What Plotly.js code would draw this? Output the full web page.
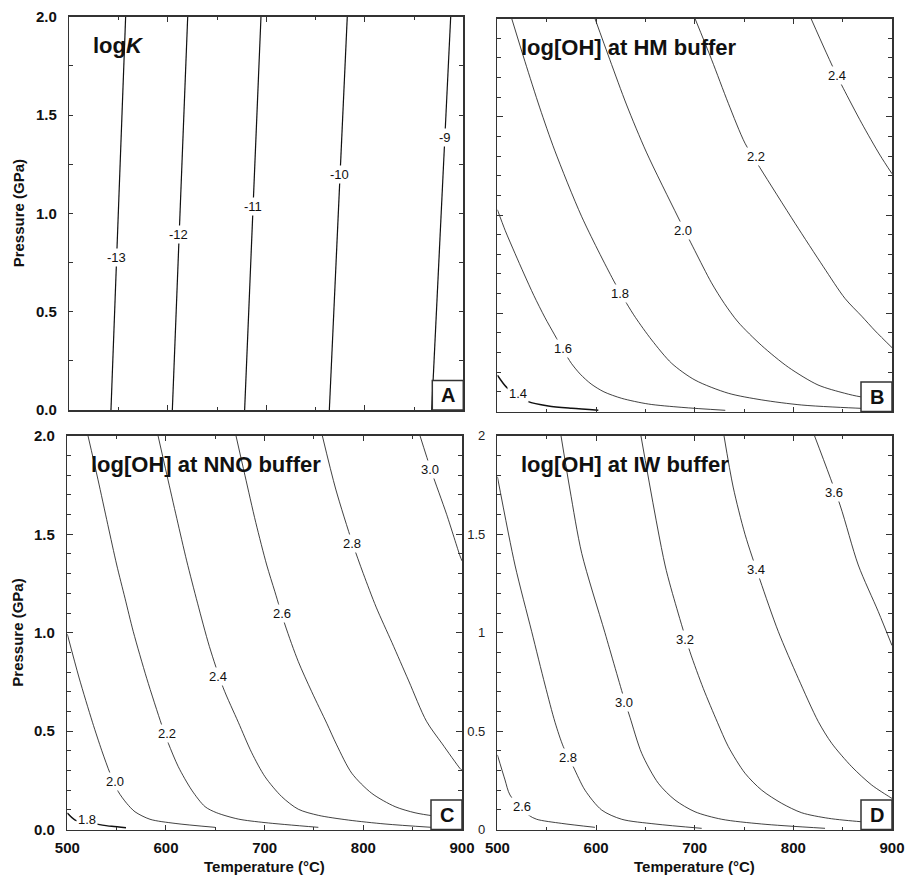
<!DOCTYPE html>
<html><head><meta charset="utf-8">
<script src="https://cdn.plot.ly/plotly-3.0.1.min.js"></script>
<style>html,body{margin:0;padding:0;background:#fff}#chart{width:905px;height:875px}</style>
</head><body><div id="chart"></div>
<script>
// ---------- DATA ----------
// Panel A: log K isolines  [T (°C), P (GPa)]
const A_levels = ['-13','-12','-11','-10','-9'];
const A_m13 = [[542.3,0],[557.2,2.0]];
const A_m12 = [[604.6,0],[620.2,2.0]];
const A_m11 = [[678.0,0],[694.6,2.0]];
const A_m10 = [[764.0,0],[782.2,2.0]];
const A_m9  = [[867.9,0],[887.2,2.0]];
const A_labelT = [548, 611, 686, 774, 881];
const A_labelP = [0.775, 0.893, 1.033, 1.198, 1.386];

// Panel B: log[OH] at HM buffer
const B_levels = ['1.4','1.6','1.8','2.0','2.2','2.4'];
const B_14 = [[500,0.185],[509.4,0.123],[520,0.087],[531.3,0.050],[551.6,0.028],[575.3,0.016],[602.3,0.006]];
const B_16 = [[500,1.027],[508,0.92],[517.8,0.805],[527,0.70],[537,0.59],[548,0.48],[558,0.39],[567,0.31],[575,0.245],[584,0.19],[595,0.14],[608,0.10],[626,0.067],[653,0.038],[687,0.021],[731,0.006]];
const B_18 = [[514.5,2.0],[528,1.78],[543,1.545],[558,1.33],[585.5,0.991],[617.5,0.669],[631,0.55],[640,0.478],[656.4,0.364],[676.7,0.245],[700.3,0.160],[734,0.093],[768,0.059],[808.5,0.033],[869.3,0.016],[900,0.011]];
const B_20 = [[598.9,2.0],[614,1.79],[631,1.56],[651,1.32],[683,0.99],[700,0.82],[717,0.655],[730,0.55],[744,0.455],[768,0.335],[795,0.225],[825,0.135],[852,0.093],[868,0.075],[900,0.06]];
const B_22 = [[700.3,2.0],[717.2,1.79],[734.1,1.568],[751,1.365],[766.2,1.24],[801.7,0.958],[830.4,0.737],[852.4,0.575],[869.3,0.485],[883,0.41],[900,0.325]];
const B_24 = [[817.9,2.0],[832.1,1.84],[843.9,1.712],[850.6,1.645],[869.3,1.467],[887.8,1.305],[900,1.21]];
const B_labelT = [520.5, 566.8, 624.3, 687.8, 761.8, 843.9];
const B_labelP = [0.093, 0.322, 0.601, 0.92, 1.30, 1.712];

// Panel C: log[OH] at NNO buffer
const C_levels = ['1.8','2.0','2.2','2.4','2.6','2.8','3.0'];
const C_18 = [[500,0.084],[508,0.048],[520,0.036],[531.4,0.026],[545,0.016],[559.5,0.009]];
const C_20 = [[500,0.993],[512,0.77],[525.5,0.545],[535,0.40],[543.3,0.286],[551.7,0.192],[560.2,0.133],[568.6,0.09],[583.8,0.052],[609.2,0.031],[649.7,0.011]];
const C_22 = [[521,2.0],[531,1.78],[541,1.55],[550.1,1.344],[558.5,1.175],[566.9,1.005],[580.5,0.768],[595.7,0.531],[602.4,0.438],[612.5,0.319],[626.1,0.2],[639.6,0.116],[651.4,0.085],[673.3,0.053],[700.4,0.035],[754.4,0.011]];
const C_24 = [[592,2.0],[601,1.8],[611,1.58],[621,1.365],[632,1.15],[644,0.93],[658,0.72],[673.3,0.545],[686.9,0.39],[700.4,0.268],[717.3,0.167],[734.1,0.103],[754.4,0.072],[784.8,0.048],[822,0.028],[869.3,0.011]];
const C_26 = [[671,2.0],[680,1.8],[691,1.56],[702.1,1.344],[710.4,1.208],[720.7,1.039],[734.1,0.853],[747.7,0.7],[762.9,0.54],[773,0.43],[788.3,0.286],[808.5,0.184],[832.2,0.116],[852.4,0.085],[870,0.07],[900,0.055]];
const C_28 = [[758.5,2.0],[772,1.73],[789,1.455],[800,1.3],[813,1.13],[829,0.95],[846,0.755],[864,0.55],[880,0.435],[898,0.31],[900,0.30]];
const C_30 = [[857.5,2.0],[869,1.82],[884.5,1.6],[898,1.39],[900,1.365]];
const C_labelT = [520, 548.3, 600.7, 652.4, 717.3, 789, 868];
const C_labelP = [0.05, 0.243, 0.489, 0.775, 1.099, 1.452, 1.83];

// Panel D: log[OH] at IW buffer
const D_levels = ['2.6','2.8','3.0','3.2','3.4','3.6'];
const D_26 = [[500,0.379],[507.7,0.252],[512.8,0.175],[531.4,0.074],[539.8,0.052],[565.2,0.031],[598.9,0.011]];
const D_28 = [[500,1.793],[517.8,1.344],[534.8,1.005],[548.3,0.734],[558.4,0.545],[566.8,0.421],[576.9,0.319],[588.8,0.2],[605.7,0.099],[626,0.052],[659.8,0.028],[707.1,0.006]];
const D_30 = [[564.5,2.0],[573.6,1.725],[585.5,1.403],[609,1.0],[628.7,0.66],[634.4,0.57],[646.3,0.387],[663.1,0.235],[680,0.15],[700.3,0.09],[727.4,0.052],[767.9,0.028],[832.1,0.006]];
const D_32 = [[645.5,2.0],[669.9,1.344],[681.8,1.124],[695.2,0.903],[708.7,0.717],[723,0.545],[734.1,0.421],[751,0.286],[767.9,0.2],[788.2,0.133],[808.5,0.085],[835.4,0.057],[867.6,0.04],[900,0.03]];
const D_34 = [[729.7,2.0],[739,1.74],[751,1.5],[766.2,1.268],[784.8,1.005],[805,0.768],[825.3,0.548],[838.9,0.438],[859.2,0.319],[879.4,0.226],[898,0.164],[900,0.158]];
const D_36 = [[821.5,2.0],[847.3,1.649],[865.8,1.344],[886.1,1.107],[900,0.935]];
const D_labelT = [524.6, 571.3, 628.7, 690.2, 761.8, 841.5];
const D_labelP = [0.119, 0.367, 0.646, 0.963, 1.319, 1.711];

const panelTitles = ['log<i>K</i>', 'log[OH] at HM buffer', 'log[OH] at NNO buffer', 'log[OH] at IW buffer'];
const panelLetters = ['A','B','C','D'];

// ---------- LAYOUT / STYLE ----------
const W = 905, H = 875;
const FONT = 'Liberation Sans, Arial, Helvetica, sans-serif';
const FRAME = '#333';
const LINE = '#111';
const PX = [ // pixel boxes of the four plot areas
  {l:69.3, r:463.3, t:16.7, b:410},
  {l:497.4, r:892, t:18.5, b:411.5},
  {l:67.3, r:462, t:435.9, b:829.5},
  {l:497.4, r:892, t:435.9, b:829.5}
];
const dx = p => [p.l / W, p.r / W];
const dy = p => [1 - p.b / H, 1 - p.t / H];

const panels = [
  {lines:[A_m13,A_m12,A_m11,A_m10,A_m9], widths:[1.2,1.2,1.2,1.2,1.2], shape:'linear', levels:A_levels, lt:A_labelT, lp:A_labelP},
  {lines:[B_14,B_16,B_18,B_20,B_22,B_24], widths:[1.5,0.8,0.8,0.8,0.8,0.8], shape:'spline', levels:B_levels, lt:B_labelT, lp:B_labelP},
  {lines:[C_18,C_20,C_22,C_24,C_26,C_28,C_30], widths:[1.5,0.8,0.8,0.8,0.8,0.8,0.8], shape:'spline', levels:C_levels, lt:C_labelT, lp:C_labelP},
  {lines:[D_26,D_28,D_30,D_32,D_34,D_36], widths:[0.8,0.8,0.8,0.8,0.8,0.8], shape:'spline', levels:D_levels, lt:D_labelT, lp:D_labelP}
];

const traces = [];
const annotations = [];
const shapes = [];
const layout = {
  width: W, height: H, margin: {l:0, r:0, t:0, b:0},
  paper_bgcolor: '#fff', plot_bgcolor: '#fff', showlegend: false,
  font: {family: FONT, color: '#111'}
};

panels.forEach((pan, i) => {
  const n = i + 1;
  const xa = 'x' + (n === 1 ? '' : n), ya = 'y' + (n === 1 ? '' : n);
  pan.lines.forEach((ln, k) => {
    traces.push({
      type: 'scatter', mode: 'lines', xaxis: xa, yaxis: ya,
      x: ln.map(d => d[0]), y: ln.map(d => d[1]),
      line: {color: LINE, width: pan.widths[k], shape: pan.shape, smoothing: 0.8},
      hoverinfo: 'skip', showlegend: false
    });
  });
  pan.levels.forEach((lv, k) => {
    annotations.push({
      xref: xa, yref: ya, x: pan.lt[k], y: pan.lp[k], text: lv, showarrow: false,
      font: {family: FONT, size: 13, color: '#111'}, bgcolor: '#fff', borderpad: 1
    });
  });

  const p = PX[i];
  const bottom = (i >= 2);
  const xKey = 'xaxis' + (n === 1 ? '' : n), yKey = 'yaxis' + (n === 1 ? '' : n);
  layout[xKey] = {
    domain: dx(p), anchor: ya, range: [500, 900], fixedrange: true,
    showline: true, linecolor: FRAME, linewidth: 1.5, mirror: 'ticks',
    ticks: 'inside', ticklen: 5, tickwidth: 1, tickcolor: FRAME, tick0: 500, dtick: 100,
    minor: {dtick: 50, ticklen: 3, ticks: 'inside', tickcolor: FRAME, tickwidth: 1, showgrid: false},
    showgrid: false, zeroline: false, showticklabels: bottom,
    tickfont: {family: FONT, size: 15, weight: 700, color: '#111'}, ticklabelstandoff: 4
  };
  const yMinor = (i === 0) ? 0.25 : 0.1;
  const yLen = (i === 0) ? 4 : 6;
  layout[yKey] = {
    domain: dy(p), anchor: xa, range: [0, 2], fixedrange: true,
    showline: true, linecolor: FRAME, linewidth: 1.5, mirror: 'ticks',
    ticks: 'inside', ticklen: yLen, tickwidth: 1, tickcolor: FRAME, tick0: 0, dtick: 0.5,
    minor: {dtick: yMinor, ticklen: 4, ticks: 'inside', tickcolor: FRAME, tickwidth: 1, showgrid: false},
    showgrid: false, zeroline: false, showticklabels: (i !== 1),
    tickformat: (i === 3) ? '' : '.1f',
    tickfont: (i === 3) ? {family: FONT, size: 13, color: '#222'} : {family: FONT, size: 15, weight: 700, color: '#111'},
    ticklabelstandoff: 8
  };

  // panel title
  annotations.push({
    xref: 'paper', yref: 'paper', x: (p.l + 22) / W, y: 1 - (p.t + 28.5) / H,
    xanchor: 'left', yanchor: 'middle', showarrow: false,
    text: '<b>' + panelTitles[i] + '</b>', font: {family: FONT, size: 22, weight: 700, color: '#111'}
  });
  // corner letter box
  const bw = 31 / (p.r - p.l), bh = 29.5 / (p.b - p.t);
  shapes.push({
    type: 'rect', xref: xa + ' domain', yref: ya + ' domain', x0: 1 - bw, x1: 1, y0: 0, y1: bh,
    fillcolor: '#fff', line: {color: FRAME, width: 1.5}, layer: 'above'
  });
  annotations.push({
    xref: xa + ' domain', yref: ya + ' domain', x: 1 - bw / 2, y: bh / 2,
    xanchor: 'center', yanchor: 'middle', showarrow: false,
    text: '<b>' + panelLetters[i] + '</b>', font: {family: FONT, size: 20, weight: 700, color: '#111'}
  });
});

// axis titles
[PX[0], PX[2]].forEach(p => {
  annotations.push({
    xref: 'paper', yref: 'paper', x: 18 / W, y: 1 - ((p.t + p.b) / 2) / H,
    xanchor: 'center', yanchor: 'middle', textangle: -90, showarrow: false,
    text: '<b>Pressure (GPa)</b>', font: {family: FONT, size: 15, weight: 700, color: '#111'}
  });
});
[PX[2], PX[3]].forEach(p => {
  annotations.push({
    xref: 'paper', yref: 'paper', x: ((p.l + p.r) / 2) / W, y: 1 - 866.5 / H,
    xanchor: 'center', yanchor: 'middle', showarrow: false,
    text: '<b>Temperature (°C)</b>', font: {family: FONT, size: 15, weight: 700, color: '#111'}
  });
});

layout.annotations = annotations;
layout.shapes = shapes;

Plotly.newPlot('chart', traces, layout, {displayModeBar: false, staticPlot: true});
</script></body></html>
